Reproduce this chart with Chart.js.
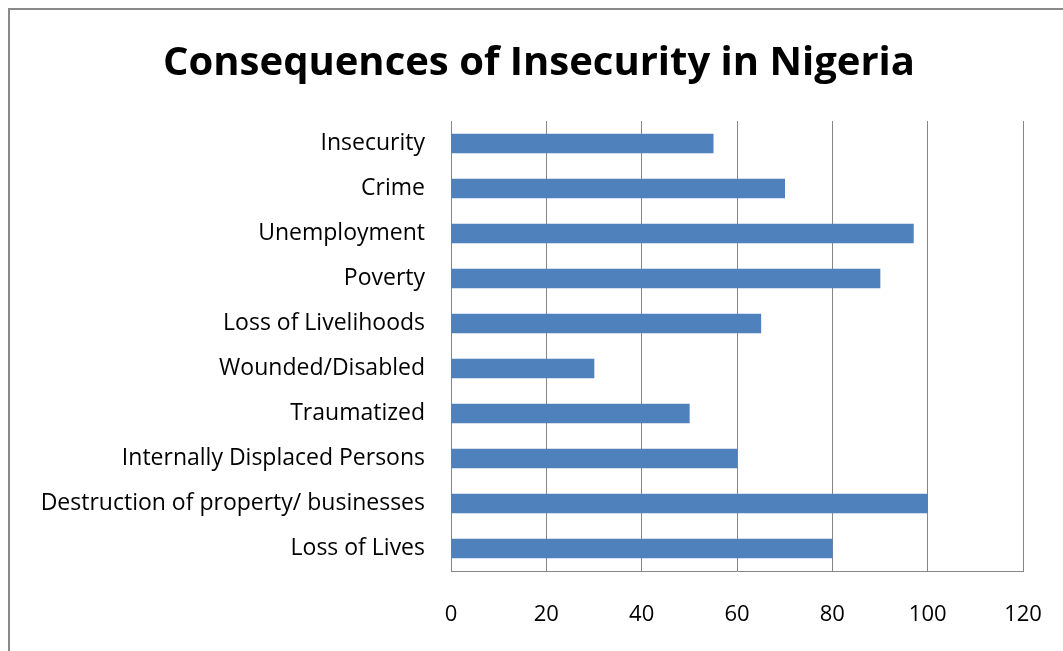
<!DOCTYPE html>
<html>
<head>
<meta charset="utf-8">
<title>Consequences of Insecurity in Nigeria</title>
<script src="https://cdn.jsdelivr.net/npm/chart.js@4"></script>
<style>
  html, body { margin: 0; padding: 0; background: #fff; overflow: hidden; }
  #wrap { position: relative; width: 1063px; height: 651px; }
  #frame {
    position: absolute; left: 8px; top: 8px;
    width: 1200px; height: 800px;
    border: 2px solid #8a8a8a;
    pointer-events: none;
  }
  canvas { position: absolute; left: 0; top: 0; }
</style>
</head>
<body>
<div id="wrap">
  <div id="frame"></div>
  <canvas id="chart" width="1063" height="651"></canvas>
</div>
<script>
// categories, top to bottom
const categories = [
  'Insecurity',
  'Crime',
  'Unemployment',
  'Poverty',
  'Loss of Livelihoods',
  'Wounded/Disabled',
  'Traumatized',
  'Internally Displaced Persons',
  'Destruction of property/ businesses',
  'Loss of Lives'
];
const values = [55, 70, 97, 90, 65, 30, 50, 60, 100, 80];

// value axis
const axisMin = 0;
const axisMax = 120;
const axisStep = 20;

const gridColor = '#868686';

const ctx = document.getElementById('chart').getContext('2d');
new Chart(ctx, {
  type: 'bar',
  data: {
    labels: categories,
    datasets: [{
      data: values,
      backgroundColor: '#4F81BD',
      borderWidth: 0,
      barThickness: 19
    }]
  },
  options: {
    indexAxis: 'y',
    responsive: false,
    animation: false,
    layout: { padding: { top: 0, right: 0, bottom: 0, left: 15 } },
    plugins: {
      legend: { display: false },
      tooltip: { enabled: false },
      title: {
        display: true,
        text: 'Consequences of Insecurity in Nigeria',
        color: '#000',
        font: { family: 'Open Sans', size: 40, weight: 'bold' },
        padding: { top: 40, bottom: 33 }
      }
    },
    scales: {
      x: {
        min: axisMin,
        max: axisMax,
        ticks: { stepSize: axisStep, color: '#000', font: { family: 'Open Sans', size: 22 }, padding: 31 },
        grid: { color: gridColor, drawTicks: false },
        border: { display: true, color: gridColor },
        afterFit: (scale) => {
          scale.height = 80;
          scale.paddingLeft = 0;
          scale.paddingRight = 40; // room for the "120" label
        }
      },
      y: {
        ticks: { color: '#000', font: { family: 'Open Sans', size: 23 }, padding: 26 },
        grid: { display: false, drawTicks: false },
        border: { display: true, color: gridColor },
        afterFit: (scale) => { scale.width = 436; }
      }
    }
  }
});
</script>
</body>
</html>
